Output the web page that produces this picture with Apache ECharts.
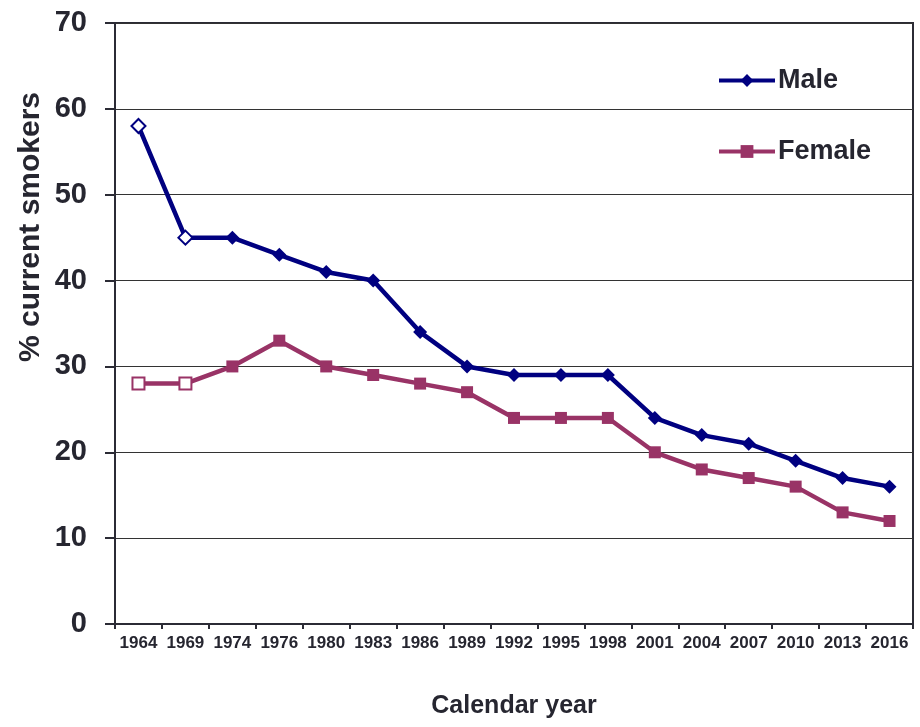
<!DOCTYPE html>
<html>
<head>
<meta charset="utf-8">
<script src="https://cdn.jsdelivr.net/npm/echarts@6/dist/echarts.min.js"></script>
<style>
  html, body { margin: 0; padding: 0; background: #fff; }
  #chart { width: 920px; height: 727px; }
</style>
</head>
<body>
<div id="chart"></div>
<script>
// survey years and % current smokers
var years = ['1964', '1969', '1974', '1976', '1980', '1983', '1986', '1989', '1992',
  '1995', '1998', '2001', '2004', '2007', '2010', '2013', '2016'];
var maleValues = [58, 45, 45, 43, 41, 40, 34, 30, 29, 29, 29, 24, 22, 21, 19, 17, 16];
var femaleValues = [28, 28, 30, 33, 30, 29, 28, 27, 24, 24, 24, 20, 18, 17, 16, 13, 12];
var hollowCount = 2; // first two points drawn as open markers

var maleColor = '#000080';
var femaleColor = '#993366';
var textColor = '#262630';

function toData(values, color) {
  return values.map(function (v, i) {
    if (i < hollowCount) {
      return { value: v, itemStyle: { color: '#fff', borderColor: color, borderWidth: 2 } };
    }
    return v;
  });
}

var chart = echarts.init(document.getElementById('chart'));
var option = {
  animation: false,
  backgroundColor: '#fff',
  textStyle: { fontFamily: 'Liberation Sans, Arial, sans-serif' },
  grid: {
    left: 115,
    right: 7,
    top: 23,
    bottom: 103,
    show: true,
    borderColor: '#2b2b35',
    borderWidth: 2
  },
  legend: {
    orient: 'vertical',
    left: 712,
    top: 62,
    itemWidth: 56,
    itemHeight: 16,
    itemGap: 44,
    data: ['Male', 'Female'],
    lineStyle: { width: 4 },
    textStyle: {
      fontSize: 27,
      fontWeight: 'bold',
      color: textColor,
      padding: [0, 0, 0, -2]
    }
  },
  graphic: [
    {
      type: 'text',
      x: 31,
      y: 227,
      rotation: Math.PI / 2,
      style: {
        text: '% current smokers',
        font: 'bold 30px "Liberation Sans", Arial, sans-serif',
        fill: textColor,
        textAlign: 'center',
        textVerticalAlign: 'middle'
      }
    }
  ],
  xAxis: {
    type: 'category',
    data: years,
    boundaryGap: true,
    name: 'Calendar year',
    nameLocation: 'middle',
    nameGap: 70,
    nameTextStyle: { fontSize: 25, fontWeight: 'bold', color: textColor },
    axisLine: { show: true, lineStyle: { color: '#2b2b35', width: 2 } },
    axisTick: { show: true, length: 5, lineStyle: { color: '#2b2b35', width: 2 } },
    axisLabel: {
      interval: 0,
      fontSize: 17,
      fontWeight: 'bold',
      color: textColor,
      margin: 11
    }
  },
  yAxis: {
    type: 'value',
    min: 0,
    max: 70,
    interval: 10,
    axisLine: { show: true, lineStyle: { color: '#2b2b35', width: 2 } },
    axisTick: { show: true, length: 10, lineStyle: { color: '#2b2b35', width: 2 } },
    splitLine: { show: true, lineStyle: { color: '#333', width: 1 } },
    axisLabel: {
      fontSize: 29,
      fontWeight: 'bold',
      color: textColor,
      margin: 28
    }
  },
  series: [
    {
      name: 'Male',
      type: 'line',
      data: toData(maleValues, maleColor),
      symbol: 'diamond',
      symbolSize: 14,
      showAllSymbol: true,
      color: maleColor,
      lineStyle: { color: maleColor, width: 4.5 },
      itemStyle: { color: maleColor },
      z: 3
    },
    {
      name: 'Female',
      type: 'line',
      data: toData(femaleValues, femaleColor),
      symbol: 'rect',
      symbolSize: 12,
      showAllSymbol: true,
      color: femaleColor,
      lineStyle: { color: femaleColor, width: 4.5 },
      itemStyle: { color: femaleColor },
      z: 2
    }
  ]
};
chart.setOption(option);
</script>
</body>
</html>
